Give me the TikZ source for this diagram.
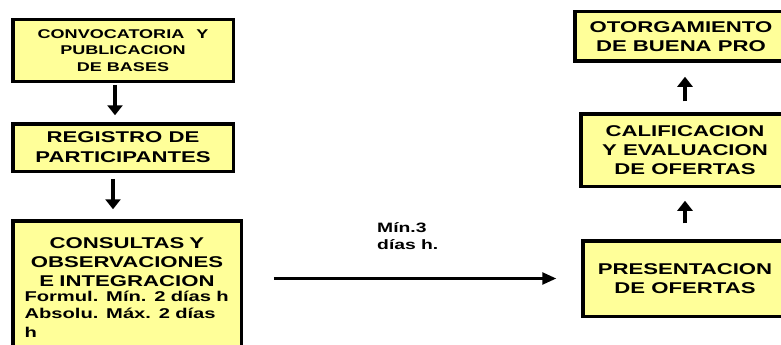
\documentclass[tikz,border=0pt]{standalone}
\usepackage{fontspec}
\setmainfont{Liberation Sans}[FakeStretch=1.42]
\usetikzlibrary{arrows.meta}
\definecolor{boxfill}{RGB}{255,255,153}
\begin{document}
\begin{tikzpicture}[x=1pt,y=-1pt,font=\bfseries,
mybox/.style={draw,line width=3.5pt,fill=boxfill,inner sep=2pt,align=center,font=\bfseries\fontsize{15.6}{19}\selectfont},
varrow/.style={line width=3.5pt,-{Triangle[length=10pt,width=15pt]}},
harrow/.style={line width=2.5pt,-{Triangle[length=14pt,width=12pt]}}]
\useasboundingbox (0,0) rectangle (781,345);
\node[mybox,minimum width=220.5pt,minimum height=61.5pt,font=\bfseries\fontsize{12.7}{16.5}\selectfont] (b1) at (123,50.5) {CONVOCATORIA\hspace{12pt}Y\\PUBLICACION\\DE BASES};
\node[mybox,minimum width=220.5pt,minimum height=47.5pt,font=\bfseries\fontsize{15.6}{20}\selectfont] (b2) at (123,147.5) {REGISTRO DE\\PARTICIPANTES};
\node[mybox,minimum width=228.5pt,minimum height=134.5pt,text width=205pt,align=left] (b3) at (127,288) {\makebox[\linewidth]{CONSULTAS Y}\\\makebox[\linewidth]{OBSERVACIONES}\\\makebox[\linewidth]{E INTEGRACION}\\[-2pt]
{\fontsize{14.2}{17}\selectfont Formul. Mín. 2 días h\\Absolu. Máx. 2 días\\h}};
\node[mybox,minimum width=212.5pt,minimum height=49.5pt] (b4) at (681,36.5) {OTORGAMIENTO\\DE BUENA PRO};
\node[mybox,minimum width=208.5pt,minimum height=72.5pt] (b5) at (685,150) {CALIFICACION\\Y EVALUACION\\DE OFERTAS};
\node[mybox,minimum width=204.5pt,minimum height=75.5pt] (b6) at (685,278.5) {PRESENTACION\\DE OFERTAS};
\node[anchor=base west,align=left,inner sep=0pt,font=\bfseries\fontsize{13.6}{17}\selectfont] (lbl) at (377,249) {Mín.3\\días h.};
\draw[varrow,shorten <=1.75pt,shorten >=6.75pt] ([xshift=-8pt]b1.south) -- ([xshift=-8pt]b2.north);
\draw[varrow,shorten <=5.75pt,shorten >=9.75pt] ([xshift=-10pt]b2.south) -- ([xshift=-10pt]b2.south |- b3.north);
\draw[varrow,shorten <=10.75pt,shorten >=13.75pt] (b5.north) -- (b5.north |- b4.south);
\draw[varrow,shorten <=15.75pt,shorten >=12.75pt] (b6.north) -- (b5.south);
\draw[harrow,shorten <=30.75pt,shorten >=24.75pt] (b6.west -| b3.east) -- (b6.west);
\end{tikzpicture}
\end{document}
